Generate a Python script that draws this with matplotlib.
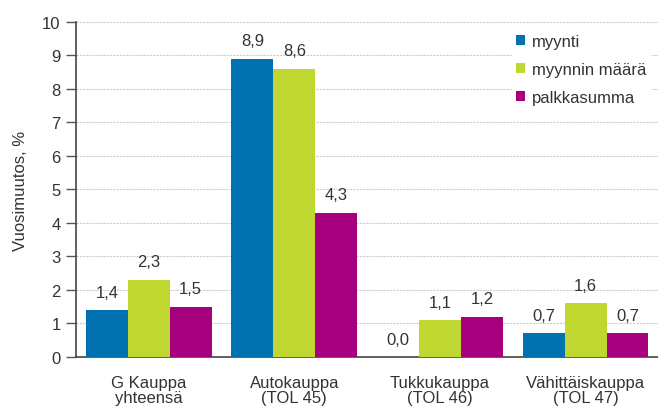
import numpy as np
import matplotlib.pyplot as plt

plt.rcParams['font.family'] = ['Liberation Sans', 'DejaVu Sans']

# Data
kategoriat = ["G Kauppa\nyhteensä", "Autokauppa\n(TOL 45)", "Tukkukauppa\n(TOL 46)", "Vähittäiskauppa\n(TOL 47)"]
myynti = [1.4, 8.9, 0.0, 0.7]
myynnin_maara = [2.3, 8.6, 1.1, 1.6]
palkkasumma = [1.5, 4.3, 1.2, 0.7]

sarjat = [("myynti", myynti, "#0072B0"),
          ("myynnin määrä", myynnin_maara, "#BFD730"),
          ("palkkasumma", palkkasumma, "#A6007E")]

fs = 12
tekstivari = "#333333"

fig = plt.figure(figsize=(6.58, 4.10), dpi=100)
ax = fig.add_axes([0.1155, 0.127, 0.885, 0.817])

x = np.arange(len(kategoriat))
w = 0.288
for i, (nimi, arvot, vari) in enumerate(sarjat):
    pos = x + (i - 1) * w
    ax.bar(pos, arvot, width=w, color=vari, label=nimi, zorder=3)
    for px, v in zip(pos, arvot):
        ax.text(px, v + 0.4, f"{v:.1f}".replace(".", ","), ha="center", va="baseline",
                fontsize=fs, color=tekstivari, zorder=4)

ax.set_xlim(-0.5, 3.5)
ax.set_ylim(0, 10)
ax.set_yticks(range(0, 11))
ax.set_xticks(x)
ax.set_xticklabels(kategoriat, fontsize=fs, color=tekstivari, linespacing=1.0)
ax.tick_params(axis="x", length=0, pad=13)
ax.tick_params(axis="y", length=7, width=1, labelsize=fs, labelcolor=tekstivari, color="#555555", pad=4)
ax.set_ylabel("Vuosimuutos, %", fontsize=fs, color=tekstivari, labelpad=10)

ax.grid(axis="y", color="#cccccc", linestyle=(0, (2, 1)), linewidth=0.8, zorder=0)
for s in ["top", "right"]:
    ax.spines[s].set_visible(False)
ax.spines["left"].set_color("#444444")
ax.spines["bottom"].set_color("#444444")
ax.spines["left"].set_linewidth(1.2)
ax.spines["bottom"].set_linewidth(1.2)

leg = ax.legend(loc="upper right", bbox_to_anchor=(1.0, 1.0), frameon=True, fontsize=fs,
                handlelength=0.55, handleheight=0.55, handletextpad=0.45, borderpad=0.2,
                labelspacing=0.78, fancybox=False, edgecolor="white", framealpha=1)
for t in leg.get_texts():
    t.set_color(tekstivari)

fig.savefig("out.png", dpi=100)
